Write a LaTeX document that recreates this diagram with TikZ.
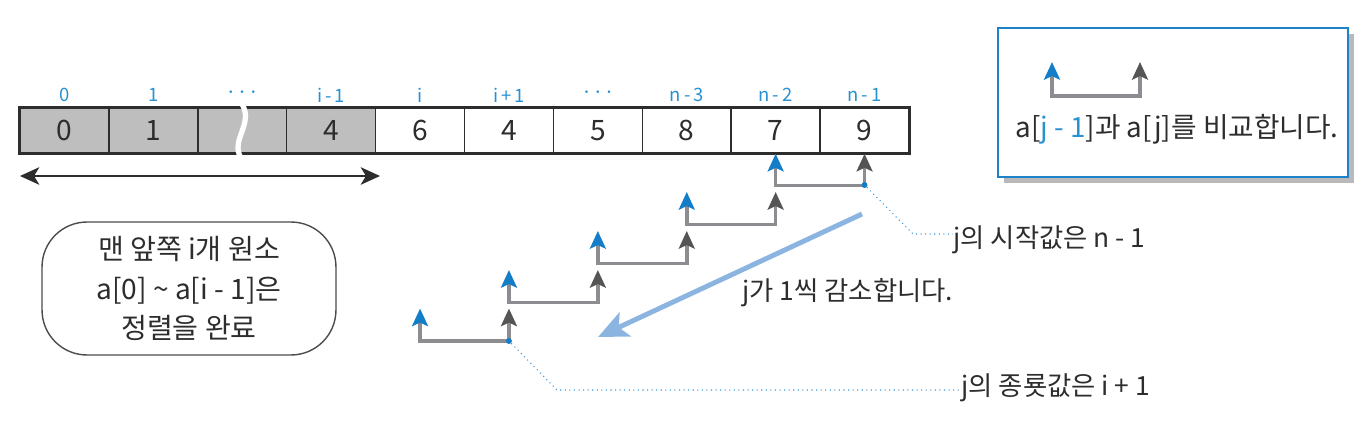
\documentclass[tikz,border=0pt]{standalone}
\usepackage{fontspec}
\setmainfont{Noto Sans CJK KR}
\usetikzlibrary{arrows.meta,shadows}
\definecolor{idxblue}{RGB}{40,145,210}
\definecolor{arrowblue}{RGB}{20,125,200}
\definecolor{darkarrow}{RGB}{85,85,85}
\definecolor{linegray}{RGB}{140,140,145}
\definecolor{bigblue}{RGB}{140,180,225}
\definecolor{cellgray}{RGB}{190,190,190}
\definecolor{boxblue}{RGB}{30,130,200}
\definecolor{shadowgray}{RGB}{185,185,185}
\definecolor{textcol}{RGB}{45,45,45}
\definecolor{leaderblue}{RGB}{60,150,220}
\begin{document}
\begin{tikzpicture}[x=0.02cm,y=-0.02cm,
  cell/.style={draw=textcol, line width=0.85pt, minimum width=1.778cm, minimum height=0.9cm,
    inner sep=0pt, text=textcol, font=\fontsize{16}{18}\selectfont},
  idx/.style={text=idxblue, font=\fontsize{10.5}{12}\selectfont, inner sep=0pt},
  dotsidx/.style={text=idxblue, font=\fontsize{14}{14}\selectfont, inner sep=0pt},
  pairline/.style={draw=linegray, line width=2pt,
    arrows={Stealth[color=arrowblue,length=10pt,width=9pt,inset=2pt]-Stealth[color=darkarrow,length=10pt,width=9pt,inset=2pt]}},
  leader/.style={draw=leaderblue, line width=0.6pt, dotted},
  dotmark/.style={fill=arrowblue, circle, inner sep=0pt, minimum size=3.4pt},
  lbl/.style={text=textcol, font=\fontsize{15}{18}\selectfont, inner sep=0pt, anchor=west},
]
\useasboundingbox (0,0) rectangle (1371,422);

% array cells
\node[cell, fill=cellgray] (c0) at (64.45,130.5) {0};
\node[cell, fill=cellgray] (c1) at (153.35,130.5) {1};
\node[cell, fill=cellgray] (c2) at (242.25,130.5) {};
\node[cell, fill=cellgray] (c3) at (331.15,130.5) {4};
\node[cell, fill=white] (c4) at (420.05,130.5) {6};
\node[cell, fill=white] (c5) at (508.95,130.5) {4};
\node[cell, fill=white] (c6) at (597.85,130.5) {5};
\node[cell, fill=white] (c7) at (686.75,130.5) {8};
\node[cell, fill=white] (c8) at (775.65,130.5) {7};
\node[cell, fill=white] (c9) at (864.55,130.5) {9};
\draw[textcol, line width=1.7pt] (c0.north west) rectangle (c9.south east);
% break mark
\draw[white, line width=3pt] (242,104) .. controls (254,124) and (230,140) .. (241,158);

% index labels
\node[idx] (i0) at (64.45,95) {0};
\node[idx] (i1) at (153.35,95) {1};
\node[dotsidx] (i2) at (242.25,93) {$\cdots$};
\node[idx] (i3) at (331.15,95) {i\,-\,1};
\node[idx] (i4) at (420.05,95) {i};
\node[idx] (i5) at (508.95,95) {i\,+\,1};
\node[dotsidx] (i6) at (597.85,93) {$\cdots$};
\node[idx] (i7) at (686.75,95) {n\,-\,3};
\node[idx] (i8) at (775.65,95) {n\,-\,2};
\node[idx] (i9) at (864.55,95) {n\,-\,1};

% double arrow under sorted part
\coordinate (da1) at (20,176);
\coordinate (da2) at (380,176);
\draw[textcol, line width=1.1pt, {Stealth[length=11pt,width=10pt,inset=3pt]}-{Stealth[length=11pt,width=10pt,inset=3pt]}] (da1) -- (da2);

% rounded box
\node[draw=textcol!85, line width=0.8pt, rounded corners=0.9cm, minimum width=5.88cm, minimum height=2.66cm,
  align=center, text=textcol, font=\fontsize{16}{22.7}\selectfont] (rb) at (189,288.5)
  {맨 앞쪽 i개 원소\\a[0] \textasciitilde{} a[i - 1]은\\정렬을 완료};

% step pairs
\draw[pairline] (c8.south) -- ++(0,32) coordinate (p1l) -| (c9.south);
\coordinate (b2) at (686.75,192); \coordinate (d2) at (775.65,192);
\draw[pairline] (b2) -- ++(0,32.5) -| (d2);
\coordinate (b3) at (597.85,231); \coordinate (d3) at (686.75,231);
\draw[pairline] (b3) -- ++(0,32.5) -| (d3);
\coordinate (b4) at (508.95,270); \coordinate (d4) at (597.85,270);
\draw[pairline] (b4) -- ++(0,32.5) -| (d4);
\coordinate (b5) at (420.05,308.5); \coordinate (d5) at (508.95,308.5);
\draw[pairline] (b5) -- ++(0,32.5) -| (d5);

\node[dotmark] (dot1) at (864.55,185) {};
\node[dotmark] (dot5) at (508.95,341) {};

% big arrow
\coordinate (bs) at (862,214);
\coordinate (be) at (598,337);
\draw[bigblue, line width=2.8pt, -{Stealth[length=17pt,width=15pt,inset=4pt]}] (bs) -- (be);
\node[lbl] (dec) at (742,293) {j가 1씩 감소합니다.};

% labels with leaders
\node[lbl] (start) at (953,240) {j의 시작값은 n - 1};
\node[lbl] (end) at (961,388) {j의 종룟값은 i + 1};
\draw[leader] (dot1) -- (913,234) -- (start.west |- 0,234);
\draw[leader] (dot5) -- (557,390) -- (end.west |- 0,390);

% legend
\node[draw=boxblue, line width=1.1pt, fill=white, minimum width=7cm, minimum height=2.98cm,
  drop shadow={shadow xshift=0.12cm, shadow yshift=-0.12cm, fill=shadowgray, opacity=1}] (lg) at (1173,102.5) {};
\coordinate (lb) at (1052,62); \coordinate (ld) at (1140,62);
\draw[pairline] (lb) -- ++(0,34) -| (ld);
\node[text=textcol, font=\fontsize{15.8}{18}\selectfont, inner sep=0pt] (lt) at (1177,129)
  {a[\textcolor{idxblue}{j - 1}]과 a[j]를 비교합니다.};
\end{tikzpicture}
\end{document}
